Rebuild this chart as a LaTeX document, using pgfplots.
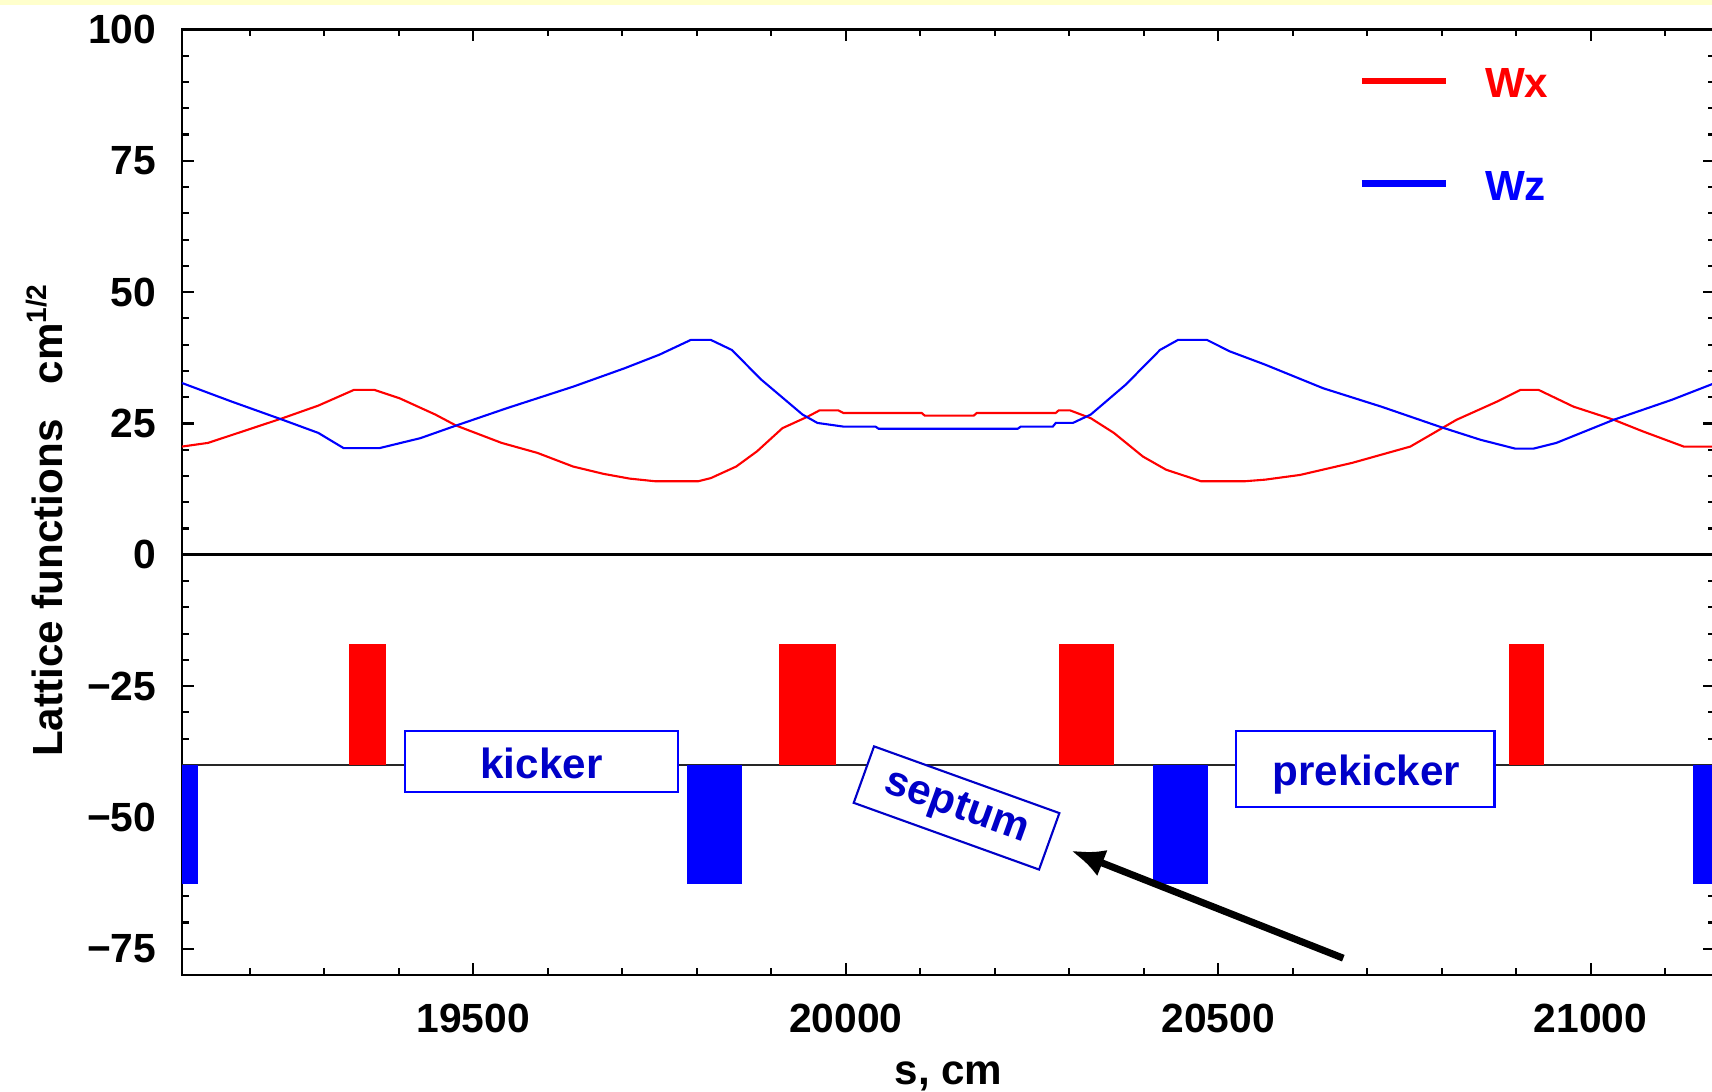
\documentclass[border=0pt]{standalone}
\usepackage{fontspec}
\setmainfont{Liberation Sans}
\usepackage{pgfplots}
\pgfplotsset{compat=1.18}
\usetikzlibrary{arrows.meta}
\definecolor{wred}{RGB}{255,0,0}
\definecolor{wblue}{RGB}{0,0,255}
\definecolor{dblue}{RGB}{0,0,200}
\definecolor{band}{RGB}{255,255,204}

\begin{document}
\begin{tikzpicture}
\path[use as bounding box] (-18.2mm,-11.6mm) rectangle (153mm,97.5mm);
\fill[band] (-18.2mm,97.0mm) rectangle (153mm,97.5mm);
\begin{axis}[
  at={(0,0)}, anchor=south west,
  width=153.3mm, height=94.55mm, scale only axis,
  xmin=19109, xmax=21167, ymin=-80, ymax=100,
  scaled x ticks=false, scaled y ticks=false,
  xtick={19500,20000,20500,21000},
  xticklabels={19500,20000,20500,21000},
  minor xtick={19200,19300,...,21100},
  ytick={-75,-50,-25,0,25,50,75,100},
  yticklabels={−75,−50,−25,0,25,50,75,100},
  minor ytick={-80,-75,...,100},
  tick align=inside,
  major tick length=1.2mm, minor tick length=0.7mm,
  axis line style={line width=0.8pt, black},
  every tick/.style={black, line width=0.6pt},
  xticklabel style={font=\bfseries\fontsize{11.6}{13}\selectfont, inner sep=0pt, yshift=-2.85mm},
  yticklabel style={font=\bfseries\fontsize{11.6}{13}\selectfont, inner sep=0pt, xshift=-2.5mm},
  xlabel={s, cm},
  xlabel style={at={(rel axis cs:0.5,-0.1153)}, anchor=base, font=\bfseries\fontsize{12}{14}\selectfont},
  ylabel={Lattice functions\hspace{3.5mm}cm\textsuperscript{1/2}},
  ylabel style={at={(rel axis cs:-0.0782,0.4815)}, anchor=base, font=\bfseries\fontsize{12}{14}\selectfont},
  legend style={draw=none, fill=none, at={(rel axis cs:0.7672,0.9598)}, anchor=north west,
    inner sep=0pt, row sep=6.85mm, column sep=3.6mm,
    nodes={inner sep=0pt, font=\bfseries\fontsize{12}{14}\selectfont}},
  legend cell align=left,
  legend image code/.code={\draw[#1, line width=1.8pt] (0mm,0.45mm) -- (8.4mm,0.45mm);},
]
\addplot[wred, line width=0.6pt] coordinates {
(19109,20.6) (19144,21.3) (19244,26.0) (19292,28.4) (19340,31.4) (19367,31.4)
(19401,29.8) (19449,26.7) (19477,24.6) (19538,21.3) (19586,19.4) (19634,16.8)
(19675,15.4) (19710,14.5) (19744,14.0) (19802,14.0) (19819,14.6) (19853,16.8)
(19881,19.7) (19915,24.1) (19949,26.3) (19965,27.5) (19990,27.5) (19997,27.0)
(20102,27.0) (20106,26.5) (20172,26.5) (20176,27.0) (20282,27.0) (20286,27.5)
(20301,27.5) (20329,26.0) (20360,23.2) (20399,18.7) (20430,16.2) (20477,14.0)
(20536,14.0) (20563,14.3) (20610,15.2) (20680,17.5) (20758,20.6) (20820,25.7)
(20875,29.2) (20906,31.4) (20930,31.4) (20977,28.2) (21031,25.7) (21070,23.5)
(21125,20.6) (21167,20.6)
};
\addlegendentry{\textcolor{wred}{Wx}}
\addplot[wblue, line width=0.6pt] coordinates {
(19109,32.7) (19175,29.2) (19244,25.7) (19292,23.2) (19326,20.3) (19374,20.3)
(19429,22.2) (19477,24.6) (19545,27.9) (19634,32.0) (19703,35.5) (19750,38.1)
(19792,40.9) (19819,40.9) (19847,39.0) (19887,33.3) (19942,26.7) (19962,25.1)
(19997,24.4) (20040,24.4) (20044,24.0) (20231,24.0) (20235,24.4) (20278,24.4)
(20282,25.1) (20305,25.1) (20329,26.7) (20376,32.4) (20422,39.0) (20446,40.9)
(20485,40.9) (20516,38.7) (20563,36.2) (20641,31.7) (20719,28.2) (20797,24.4)
(20852,21.9) (20899,20.2) (20923,20.2) (20954,21.3) (21031,25.7) (21109,29.5)
(21167,32.7)
};
\addlegendentry{\textcolor{wblue}{Wz}}
% zero line and magnet baseline
\addplot[black, line width=0.8pt, forget plot] coordinates {(19109,0) (21167,0)};
\addplot[black!85, line width=0.6pt, forget plot] coordinates {(19109,-40) (21167,-40)};
% focusing (red) and defocusing (blue) elements
\addplot[fill=wred, draw=none, forget plot] coordinates {(19333,-40) (19333,-17) (19383,-17) (19383,-40)} -- cycle;
\addplot[fill=wred, draw=none, forget plot] coordinates {(19910,-40) (19910,-17) (19987,-17) (19987,-40)} -- cycle;
\addplot[fill=wred, draw=none, forget plot] coordinates {(20287,-40) (20287,-17) (20360,-17) (20360,-40)} -- cycle;
\addplot[fill=wred, draw=none, forget plot] coordinates {(20890,-40) (20890,-17) (20938,-17) (20938,-40)} -- cycle;
\addplot[fill=wblue, draw=none, forget plot] coordinates {(19109,-40) (19109,-62.7) (19131,-62.7) (19131,-40)} -- cycle;
\addplot[fill=wblue, draw=none, forget plot] coordinates {(19787,-40) (19787,-62.7) (19861,-62.7) (19861,-40)} -- cycle;
\addplot[fill=wblue, draw=none, forget plot] coordinates {(20412,-40) (20412,-62.7) (20486,-62.7) (20486,-40)} -- cycle;
\addplot[fill=wblue, draw=none, forget plot] coordinates {(21138,-40) (21138,-62.7) (21167,-62.7) (21167,-40)} -- cycle;
% labels
\node[draw=wblue, line width=0.6pt, fill=white, minimum width=27.25mm, minimum height=6.1mm, inner sep=0pt]
  at (axis cs:19591.6,-39.35) {};
\node[anchor=base, text=dblue, inner sep=0pt, font=\bfseries\fontsize{12}{14}\selectfont]
  at (axis cs:19591.6,-42.5) {kicker};
\node[draw=wblue, line width=0.6pt, fill=white, minimum width=25.85mm, minimum height=7.6mm, inner sep=0pt]
  at (axis cs:20697.5,-40.7) {};
\node[anchor=base, text=dblue, inner sep=0pt, font=\bfseries\fontsize{12}{14}\selectfont]
  at (axis cs:20698.7,-43.9) {prekicker};
\node[draw=dblue, line width=0.6pt, fill=white, minimum width=19.7mm, minimum height=6.0mm, inner sep=0pt,
  rotate=-19.8, text=dblue, font=\bfseries\fontsize{12}{14}\selectfont]
  at (axis cs:20148.8,-48.2) {septum};
\draw[black, line width=2pt, -{Latex[length=3.4mm,width=2.8mm]}]
  (axis cs:20668,-76.8) -- (axis cs:20302,-56.3);
\end{axis}
\end{tikzpicture}
\end{document}
